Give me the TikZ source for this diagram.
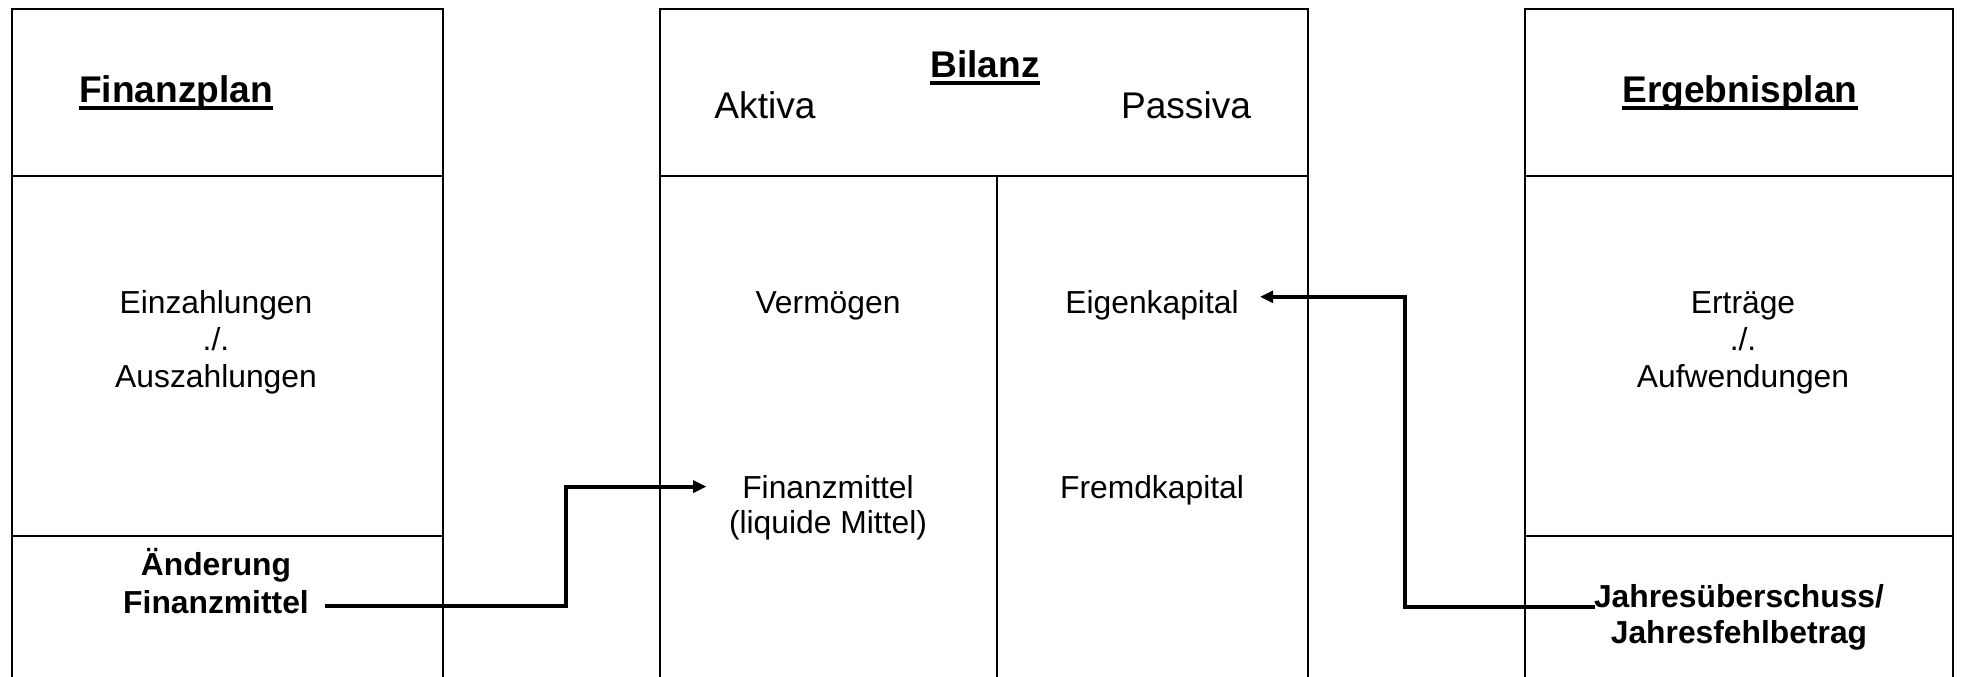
\documentclass[tikz,border=0pt]{standalone}
\usepackage{fontspec}
\setmainfont{Liberation Sans}
\usetikzlibrary{arrows.meta}

\newsavebox\strichbox
\newcommand{\unterstr}[1]{\sbox\strichbox{#1}\rlap{\rule[-3pt]{\wd\strichbox}{1.5pt}}\usebox\strichbox}

\begin{document}
\begin{tikzpicture}[x=0.01326cm, y=-0.01326cm,
        rahmen/.style={line width=0.75pt},
        titel/.style={anchor=base, font=\fontsize{14}{16}\selectfont\bfseries},
        spalte/.style={anchor=base, font=\fontsize{14}{16}\selectfont},
        eintrag/.style={anchor=base, font=\fontsize{12}{14}\selectfont},
        ergebnis/.style={anchor=base, font=\fontsize{12}{14}\selectfont\bfseries},
        pfeil/.style={line width=1.5pt, -{Triangle[length=5pt,width=4.5pt]}}]
    \useasboundingbox (0,0) rectangle (1964,677);

    % Kaesten
    \foreach \l/\r in {12/443, 660/1308, 1525/1953} {
        \draw[rahmen] (\l,677) |- (\r,9) -- (\r,677);
        \draw[rahmen] (\l,176) -- (\r,176);
    }
    \draw[rahmen] (12,536) -- (443,536);
    \draw[rahmen] (1525,536) -- (1953,536);
    \draw[rahmen] (997,176) -- (997,677);

    % Finanzplan
    \node[titel] (fplan) at (176,102) {\unterstr{Finanzplan}};
    \foreach \y/\txt [count=\i] in {313/Einzahlungen, 350/{./.}, 387/Auszahlungen}
        \node[eintrag] (fp\i) at (216,\y) {\txt};
    \node[ergebnis] (aend1) at (216,575) {Änderung};
    \node[ergebnis] (aend2) at (216,613) {Finanzmittel};

    % Bilanz
    \node[titel] (bil) at (985,77) {\unterstr{Bilanz}};
    \node[spalte] (akt) at (765,119) {Aktiva};
    \node[spalte] (pas) at (1186,119) {Passiva};
    \node[eintrag] (verm) at (828,313) {Vermögen};
    \node[eintrag] (fmit) at (828,498) {Finanzmittel};
    \node[eintrag] (liqm) at (828,533) {(liquide Mittel)};
    \node[eintrag] (eigen) at (1152,313) {Eigenkapital};
    \node[eintrag] (fremd) at (1152,498) {Fremdkapital};

    % Ergebnisplan
    \node[titel] (eplan) at (1740,102) {\unterstr{Ergebnisplan}};
    \foreach \y/\txt [count=\i] in {313/Erträge, 350/{./.}, 387/Aufwendungen}
        \node[eintrag] (ep\i) at (1743,\y) {\txt};
    \node[ergebnis] (jahr1) at (1739,607) {Jahresüberschuss/};
    \node[ergebnis] (jahr2) at (1739,643) {Jahresfehlbetrag};

    % Verbindungen
    \coordinate (knick1) at (566,550);
    \coordinate (knick2) at (1405,450);
    \draw[pfeil, shorten <=2.4pt, shorten >=10pt] (aend2.mid east) -| (knick1) |- (fmit.west);
    \draw[pfeil, shorten <=-4pt, shorten >=4.5pt] (jahr1.base west) -| (knick2) |- ([yshift=3pt]eigen.east);
\end{tikzpicture}
\end{document}
